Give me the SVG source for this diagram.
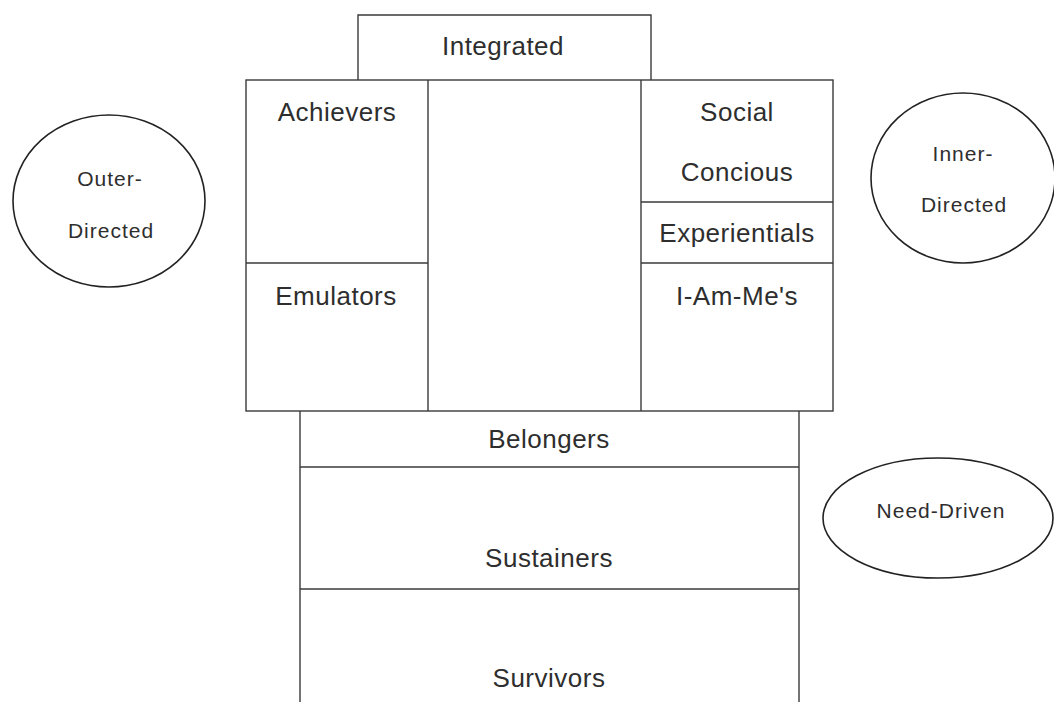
<svg xmlns="http://www.w3.org/2000/svg" width="1054" height="702" viewBox="0 0 1054 702">
<style>
.box{fill:none;stroke:#3a3a3a;stroke-width:1.4}
.ell{fill:none;stroke:#222;stroke-width:1.6}
.lbl{font-family:"Liberation Sans",Arial,sans-serif;font-size:26px;fill:#2e2e2e;text-anchor:middle;letter-spacing:0.5px}
.sm{font-family:"Liberation Sans",Arial,sans-serif;font-size:21px;fill:#2e2e2e;text-anchor:middle;letter-spacing:1px}
</style>
<rect width="1054" height="702" fill="#ffffff"/>
<g id="integrated">
<path class="box" d="M358,80 V15 H651 V80"/>
<text class="lbl" x="503" y="55">Integrated</text>
</g>
<g id="main-frame">
<rect class="box" x="246" y="80" width="587" height="331"/>
<line class="box" x1="428" y1="80" x2="428" y2="411"/>
<line class="box" x1="641" y1="80" x2="641" y2="411"/>
</g>
<g id="achievers">
<line class="box" x1="246" y1="263" x2="428" y2="263"/>
<text class="lbl" x="337" y="121">Achievers</text>
</g>
<g id="emulators">
<text class="lbl" x="336" y="305">Emulators</text>
</g>
<g id="social-concious">
<text class="lbl" x="737" y="121">Social</text>
<text class="lbl" x="737" y="181">Concious</text>
</g>
<g id="experientials">
<line class="box" x1="641" y1="202" x2="833" y2="202"/>
<line class="box" x1="641" y1="263" x2="833" y2="263"/>
<text class="lbl" x="737" y="242">Experientials</text>
</g>
<g id="i-am-mes">
<text class="lbl" x="737" y="305">I-Am-Me's</text>
</g>
<g id="belongers">
<path class="box" d="M300,411 V702 M799,411 V702"/>
<line class="box" x1="300" y1="467" x2="799" y2="467"/>
<text class="lbl" x="549" y="448">Belongers</text>
</g>
<g id="sustainers">
<line class="box" x1="300" y1="589" x2="799" y2="589"/>
<text class="lbl" x="549" y="567">Sustainers</text>
</g>
<g id="survivors">
<text class="lbl" x="549" y="687">Survivors</text>
</g>
<g id="outer-directed">
<ellipse class="ell" cx="109" cy="201" rx="96" ry="86"/>
<text class="sm" x="110" y="186">Outer-</text>
<text class="sm" x="111" y="238">Directed</text>
</g>
<g id="inner-directed">
<ellipse class="ell" cx="963" cy="178" rx="92" ry="85"/>
<text class="sm" x="963" y="161">Inner-</text>
<text class="sm" x="964" y="212">Directed</text>
</g>
<g id="need-driven">
<ellipse class="ell" cx="938" cy="518" rx="115" ry="60"/>
<text class="sm" x="941" y="518">Need-Driven</text>
</g>
<g id="connectors"></g>
</svg>
